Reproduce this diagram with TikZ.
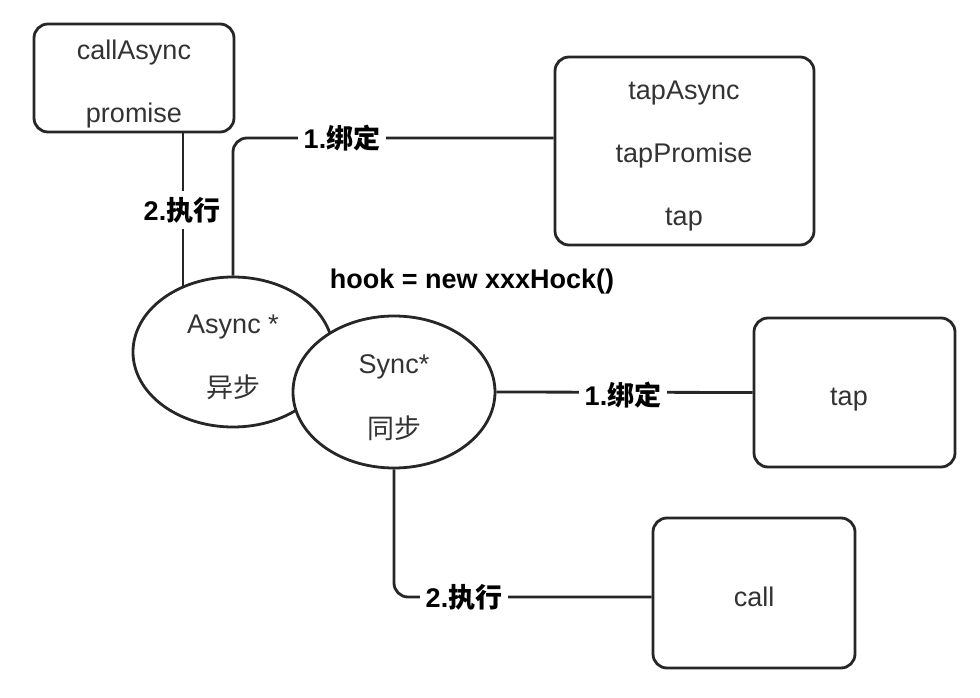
\documentclass[tikz,border=0pt]{standalone}
\usepackage{fontspec}
\setmainfont{Liberation Sans}
\newfontfamily\cjk{Noto Sans CJK SC}
\usetikzlibrary{shapes.geometric}

\begin{document}
\begin{tikzpicture}[x=1pt,y=-1pt,line width=2.8pt,
  box/.style={draw=black!85,rounded corners=14pt,inner sep=0pt},
  blob/.style={ellipse,draw=black!85,fill=white,inner sep=0pt,minimum width=200pt,minimum height=150pt},
  txt/.style={font=\fontsize{27}{32}\selectfont,text=black!80,inner sep=0pt},
  lbl/.style={font=\fontsize{27}{32}\selectfont\bfseries,fill=white,inner sep=6pt},
  wire/.style={draw=black!85,rounded corners=14pt}]
\useasboundingbox (0,0) rectangle (980,698);

% boxes
\node[box,minimum width=200pt,minimum height=108pt] (callbox)  at (134,78)    {};
\node[box,minimum width=259pt,minimum height=188pt] (tapbox)   at (684.5,151) {};
\node[box,minimum width=201pt,minimum height=149pt] (tapsync)  at (854.5,392.5) {};
\node[box,minimum width=202pt,minimum height=150pt] (callsync) at (754,593)   {};

\node[txt,anchor=base] (callasync)  at (134,60)  {callAsync};
\node[txt,anchor=base] (promise)    at (134,123) {promise};
\node[txt,anchor=base] (tapasync)   at (684,100) {tapAsync};
\node[txt,anchor=base] (tappromise) at (684,163) {tapPromise};
\node[txt,anchor=base] (tapa)       at (684,225) {tap};
\node[txt,anchor=base] (taps)       at (849,405) {tap};
\node[txt,anchor=base] (calls)      at (754,606) {call};

% hooks
\node[blob] (async) at (233,352) {};
\node[blob,minimum width=202pt,minimum height=152pt] (sync) at (394,392) {};
\node[txt,anchor=base] (asynctxt) at (233,333) {Async *};
\node[txt] (asynccn) at (233,387) {\cjk 异步};
\node[txt,anchor=base] (synctxt) at (394,373) {Sync*};
\node[txt] (synccn) at (394,428) {\cjk 同步};

\node[font=\fontsize{27}{32}\selectfont\bfseries,anchor=base] (hook) at (472,288) {hook = new xxxHock()};

% links
\coordinate (bindA) at (342,138);
\coordinate (execS) at (464,597);
\draw[wire] (async.north) |- (bindA) -- (bindA -| tapbox.west);
\draw[wire] (async.127) -- (async.127 |- callbox.south);
\draw[wire] (sync.east) -- (tapsync.west);
\draw[wire] (sync.south) |- (execS) -- (execS -| callsync.west);

\node[lbl] (bindAlbl) at (bindA) {1.{\cjk 绑定}};
\node[lbl] (execAlbl) at (182,210) {2.{\cjk 执行}};
\node[lbl] (bindSlbl) at (623,395) {1.{\cjk 绑定}};
\node[lbl] (execSlbl) at (execS) {2.{\cjk 执行}};
\end{tikzpicture}
\end{document}
